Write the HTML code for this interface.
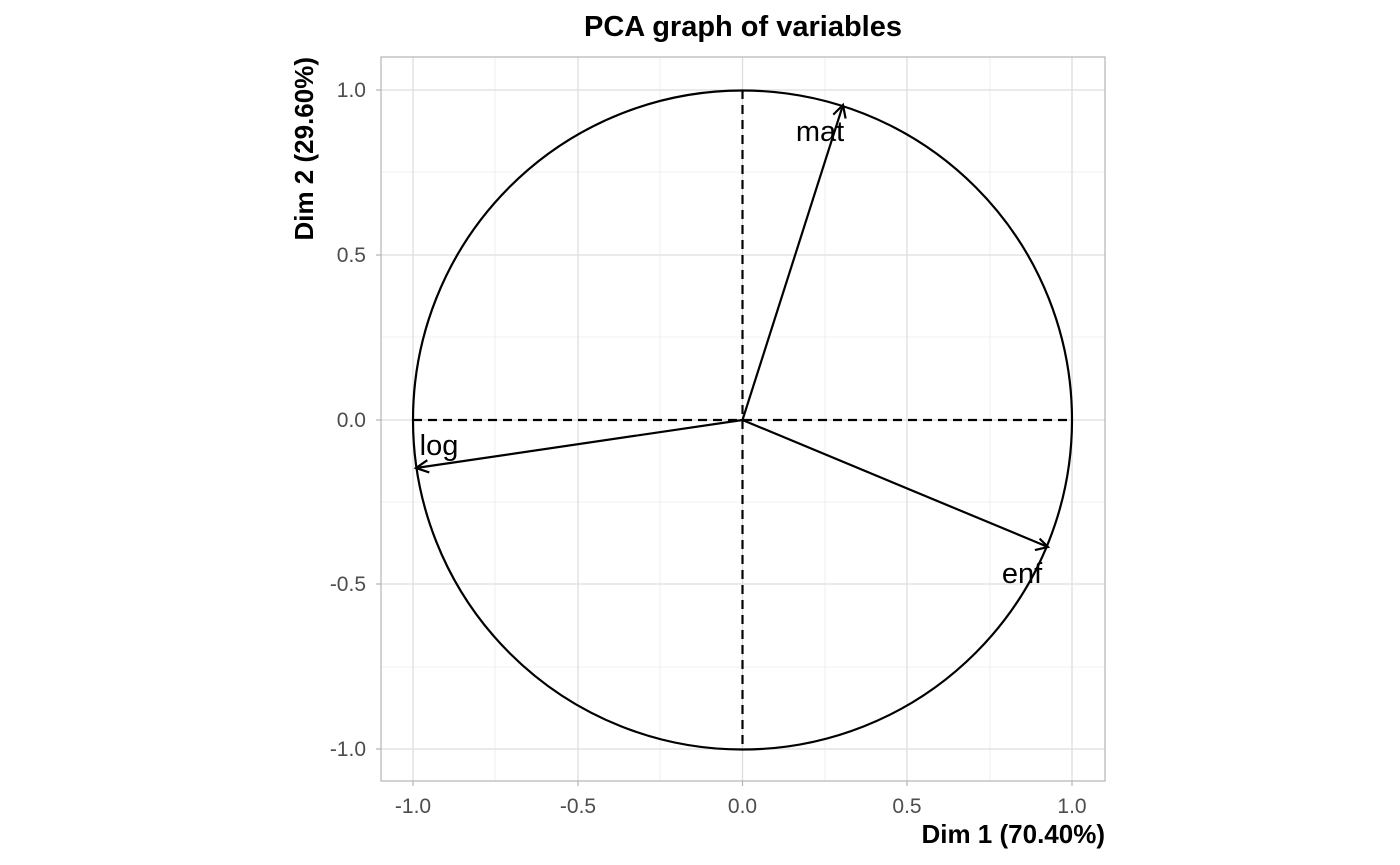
<!DOCTYPE html>
<html><head><style>body{margin:0;background:#fff}svg{display:block}</style></head><body>
<svg width="1400" height="865" xmlns="http://www.w3.org/2000/svg" font-family="Liberation Sans, sans-serif">
<rect width="1400" height="865" fill="#fff"/>
<g stroke="#ebebeb" stroke-width="0.8">
<line x1="495" y1="57" x2="495" y2="781"/><line x1="660" y1="57" x2="660" y2="781"/><line x1="825" y1="57" x2="825" y2="781"/><line x1="990" y1="57" x2="990" y2="781"/>
<line x1="381" y1="172" x2="1105" y2="172"/><line x1="381" y1="337" x2="1105" y2="337"/><line x1="381" y1="502" x2="1105" y2="502"/><line x1="381" y1="667" x2="1105" y2="667"/>
</g>
<g stroke="#dedede" stroke-width="1.3">
<line x1="413" y1="57" x2="413" y2="781"/><line x1="578" y1="57" x2="578" y2="781"/><line x1="742.5" y1="57" x2="742.5" y2="781"/><line x1="907" y1="57" x2="907" y2="781"/><line x1="1072" y1="57" x2="1072" y2="781"/>
<line x1="381" y1="90" x2="1105" y2="90"/><line x1="381" y1="255" x2="1105" y2="255"/><line x1="381" y1="420" x2="1105" y2="420"/><line x1="381" y1="584" x2="1105" y2="584"/><line x1="381" y1="749" x2="1105" y2="749"/>
</g>
<rect x="381" y="57" width="724" height="724" fill="none" stroke="#b3b3b3" stroke-width="1.2"/>
<g stroke="#b3b3b3" stroke-width="1.2">
<line x1="413" y1="781" x2="413" y2="786"/><line x1="578" y1="781" x2="578" y2="786"/><line x1="742.5" y1="781" x2="742.5" y2="786"/><line x1="907" y1="781" x2="907" y2="786"/><line x1="1072" y1="781" x2="1072" y2="786"/>
<line x1="376" y1="90" x2="381" y2="90"/><line x1="376" y1="255" x2="381" y2="255"/><line x1="376" y1="420" x2="381" y2="420"/><line x1="376" y1="584" x2="381" y2="584"/><line x1="376" y1="749" x2="381" y2="749"/>
</g>
<circle cx="742.5" cy="420" r="329.5" fill="none" stroke="#000" stroke-width="2.2"/>
<g stroke="#000" stroke-width="2.2" stroke-dasharray="9,6">
<line x1="413" y1="420" x2="1072" y2="420"/><line x1="742.5" y1="90" x2="742.5" y2="749"/>
</g>
<g stroke="#000" stroke-width="2.2" fill="none">
<line x1="742.5" y1="420" x2="843" y2="105"/>
<polyline points="833.3,114.6 843,105 845.6,118.5"/>
<line x1="742.5" y1="420" x2="416" y2="468"/>
<polyline points="427.3,460.2 416,468 429.3,472.4"/>
<line x1="742.5" y1="420" x2="1048" y2="547"/>
<polyline points="1034.9,550.1 1048,547 1039.6,538.6"/>
</g>
<g font-size="29" fill="#000" text-anchor="middle">
<text x="820" y="141">mat</text><text x="439" y="455">log</text><text x="1022" y="583">enf</text>
</g>
<g font-size="21" fill="#4d4d4d" text-anchor="middle">
<text x="413" y="813">-1.0</text><text x="578" y="813">-0.5</text><text x="742.5" y="813">0.0</text><text x="907" y="813">0.5</text><text x="1072" y="813">1.0</text>
</g>
<g font-size="21" fill="#4d4d4d" text-anchor="end">
<text x="366" y="97">1.0</text><text x="366" y="262">0.5</text><text x="366" y="427">0.0</text><text x="366" y="591">-0.5</text><text x="366" y="756">-1.0</text>
</g>
<text x="1105" y="843" font-size="26" font-weight="bold" text-anchor="end">Dim 1 (70.40%)</text>
<text transform="translate(313,57) rotate(-90)" font-size="26" font-weight="bold" text-anchor="end">Dim 2 (29.60%)</text>
<text x="743" y="36" font-size="29" font-weight="bold" text-anchor="middle">PCA graph of variables</text>
</svg>
</body></html>
